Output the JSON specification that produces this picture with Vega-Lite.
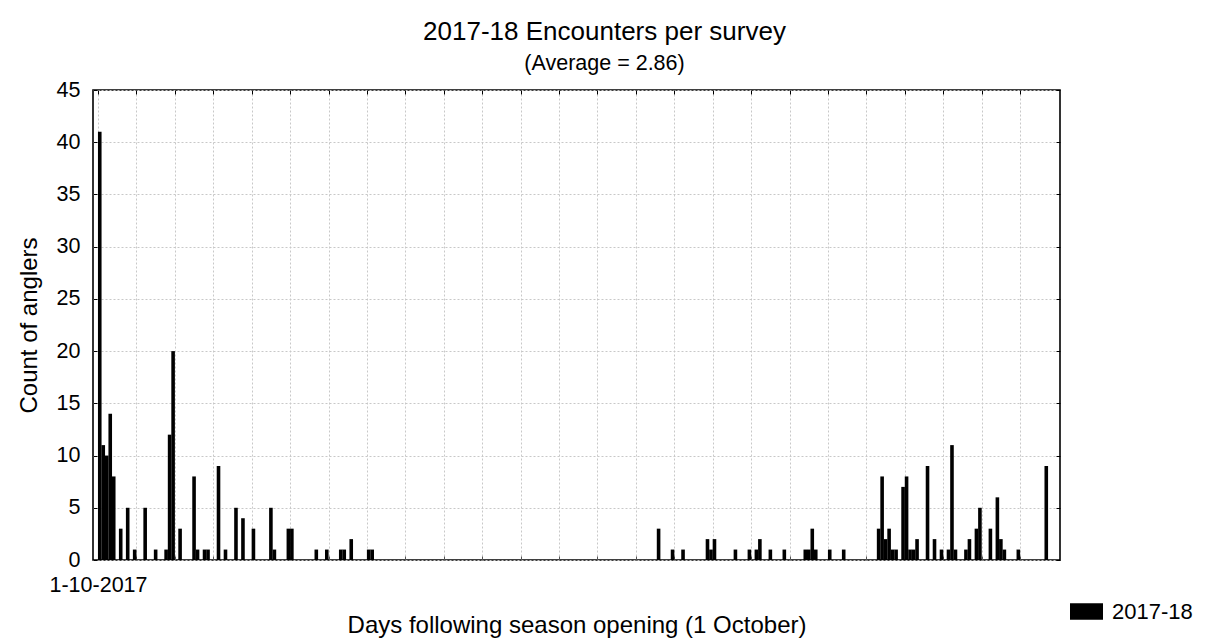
{
  "$schema": "https://vega.github.io/schema/vega-lite/v6.json",
  "width": 967,
  "height": 470,
  "autosize": "none",
  "padding": {"left": 93, "top": 90, "right": 146, "bottom": 83},
  "background": "white",
  "config": {
    "font": "Liberation Sans",
    "view": {"stroke": "#000000", "strokeWidth": 1.6},
    "axis": {"labelColor": "#000000", "titleColor": "#000000", "titleFontWeight": "normal", "labelFont": "Liberation Sans", "titleFont": "Liberation Sans"}
  },
  "title": {
    "text": "2017-18 Encounters per survey",
    "subtitle": "(Average = 2.86)",
    "anchor": "middle",
    "dx": 28,
    "fontSize": 26,
    "fontWeight": "normal",
    "color": "#000000",
    "subtitleFontSize": 21.5,
    "subtitleColor": "#000000",
    "subtitlePadding": 8,
    "offset": 5,
    "font": "Liberation Sans",
    "subtitleFont": "Liberation Sans"
  },
  "data": {
    "values": [
      {"day": 0, "count": 41, "season": "2017-18"},
      {"day": 1, "count": 11, "season": "2017-18"},
      {"day": 2, "count": 10, "season": "2017-18"},
      {"day": 3, "count": 14, "season": "2017-18"},
      {"day": 4, "count": 8, "season": "2017-18"},
      {"day": 6, "count": 3, "season": "2017-18"},
      {"day": 8, "count": 5, "season": "2017-18"},
      {"day": 10, "count": 1, "season": "2017-18"},
      {"day": 13, "count": 5, "season": "2017-18"},
      {"day": 16, "count": 1, "season": "2017-18"},
      {"day": 19, "count": 1, "season": "2017-18"},
      {"day": 20, "count": 12, "season": "2017-18"},
      {"day": 21, "count": 20, "season": "2017-18"},
      {"day": 23, "count": 3, "season": "2017-18"},
      {"day": 27, "count": 8, "season": "2017-18"},
      {"day": 28, "count": 1, "season": "2017-18"},
      {"day": 30, "count": 1, "season": "2017-18"},
      {"day": 31, "count": 1, "season": "2017-18"},
      {"day": 34, "count": 9, "season": "2017-18"},
      {"day": 36, "count": 1, "season": "2017-18"},
      {"day": 39, "count": 5, "season": "2017-18"},
      {"day": 41, "count": 4, "season": "2017-18"},
      {"day": 44, "count": 3, "season": "2017-18"},
      {"day": 49, "count": 5, "season": "2017-18"},
      {"day": 50, "count": 1, "season": "2017-18"},
      {"day": 54, "count": 3, "season": "2017-18"},
      {"day": 55, "count": 3, "season": "2017-18"},
      {"day": 62, "count": 1, "season": "2017-18"},
      {"day": 65, "count": 1, "season": "2017-18"},
      {"day": 69, "count": 1, "season": "2017-18"},
      {"day": 70, "count": 1, "season": "2017-18"},
      {"day": 72, "count": 2, "season": "2017-18"},
      {"day": 77, "count": 1, "season": "2017-18"},
      {"day": 78, "count": 1, "season": "2017-18"},
      {"day": 160, "count": 3, "season": "2017-18"},
      {"day": 164, "count": 1, "season": "2017-18"},
      {"day": 167, "count": 1, "season": "2017-18"},
      {"day": 174, "count": 2, "season": "2017-18"},
      {"day": 175, "count": 1, "season": "2017-18"},
      {"day": 176, "count": 2, "season": "2017-18"},
      {"day": 182, "count": 1, "season": "2017-18"},
      {"day": 186, "count": 1, "season": "2017-18"},
      {"day": 188, "count": 1, "season": "2017-18"},
      {"day": 189, "count": 2, "season": "2017-18"},
      {"day": 192, "count": 1, "season": "2017-18"},
      {"day": 196, "count": 1, "season": "2017-18"},
      {"day": 202, "count": 1, "season": "2017-18"},
      {"day": 203, "count": 1, "season": "2017-18"},
      {"day": 204, "count": 3, "season": "2017-18"},
      {"day": 205, "count": 1, "season": "2017-18"},
      {"day": 209, "count": 1, "season": "2017-18"},
      {"day": 213, "count": 1, "season": "2017-18"},
      {"day": 223, "count": 3, "season": "2017-18"},
      {"day": 224, "count": 8, "season": "2017-18"},
      {"day": 225, "count": 2, "season": "2017-18"},
      {"day": 226, "count": 3, "season": "2017-18"},
      {"day": 227, "count": 1, "season": "2017-18"},
      {"day": 228, "count": 1, "season": "2017-18"},
      {"day": 230, "count": 7, "season": "2017-18"},
      {"day": 231, "count": 8, "season": "2017-18"},
      {"day": 232, "count": 1, "season": "2017-18"},
      {"day": 233, "count": 1, "season": "2017-18"},
      {"day": 234, "count": 2, "season": "2017-18"},
      {"day": 237, "count": 9, "season": "2017-18"},
      {"day": 239, "count": 2, "season": "2017-18"},
      {"day": 241, "count": 1, "season": "2017-18"},
      {"day": 243, "count": 1, "season": "2017-18"},
      {"day": 244, "count": 11, "season": "2017-18"},
      {"day": 245, "count": 1, "season": "2017-18"},
      {"day": 248, "count": 1, "season": "2017-18"},
      {"day": 249, "count": 2, "season": "2017-18"},
      {"day": 251, "count": 3, "season": "2017-18"},
      {"day": 252, "count": 5, "season": "2017-18"},
      {"day": 255, "count": 3, "season": "2017-18"},
      {"day": 257, "count": 6, "season": "2017-18"},
      {"day": 258, "count": 2, "season": "2017-18"},
      {"day": 259, "count": 1, "season": "2017-18"},
      {"day": 263, "count": 1, "season": "2017-18"},
      {"day": 271, "count": 9, "season": "2017-18"}
    ]
  },
  "resolve": {"axis": {"x": "independent", "y": "independent"}},
  "layer": [
    {
      "mark": {"type": "bar", "width": 3.6, "xOffset": 1.76, "clip": true},
      "encoding": {
        "x": {
          "field": "day",
          "type": "quantitative",
          "scale": {"domain": [0, 274], "nice": false, "zero": false},
          "axis": {
            "orient": "bottom",
            "title": "Days following season opening (1 October)",
            "titleFontSize": 24,
            "titlePadding": 18,
            "values": [0, 11, 22, 33, 44, 55, 66, 77, 88, 99, 110, 121, 132, 143, 154, 165, 176, 187, 198, 209, 220, 231, 242, 253, 264],
            "labelExpr": "datum.value === 0 ? '1-10-2017' : ''",
            "labelFontSize": 21.5,
            "labelPadding": 18,
            "labelDx": 2,
            "labelFlush": false,
            "labelOverlap": false,
            "tickSize": -4,
            "tickColor": "#555555",
            "domain": false,
            "grid": true,
            "gridColor": "#c8c8c8",
            "gridDash": [2, 2],
            "gridWidth": 1
          }
        },
        "y": {
          "field": "count",
          "type": "quantitative",
          "scale": {"domain": [0, 45], "nice": false},
          "axis": {
            "orient": "left",
            "title": "Count of anglers",
            "titleFontSize": 24,
            "titleX": -57,
            "titleY": 235,
            "titleBaseline": "alphabetic",
            "titleAngle": -90,
            "values": [0, 5, 10, 15, 20, 25, 30, 35, 40, 45],
            "labelFontSize": 21.5,
            "labelPadding": 17,
            "tickSize": -4,
            "tickColor": "#000000",
            "domain": false,
            "grid": true,
            "gridColor": "#c8c8c8",
            "gridDash": [2, 2],
            "gridWidth": 1
          }
        },
        "color": {
          "field": "season",
          "type": "nominal",
          "scale": {"domain": ["2017-18"], "range": ["#000000"]},
          "legend": {
            "orient": "none",
            "legendX": 977,
            "legendY": 505,
            "title": null,
            "symbolType": "M-1,-0.5H1V0.5H-1Z",
            "symbolSize": 1089,
            "symbolStrokeWidth": 0,
            "labelFontSize": 22,
            "labelColor": "#000000",
            "labelFont": "Liberation Sans",
            "labelOffset": 9
          }
        }
      }
    },
    {
      "mark": {"type": "point", "opacity": 0},
      "encoding": {
        "x": {
          "field": "day",
          "type": "quantitative",
          "axis": {
            "orient": "top",
            "title": null,
            "labels": false,
            "values": [0, 11, 22, 33, 44, 55, 66, 77, 88, 99, 110, 121, 132, 143, 154, 165, 176, 187, 198, 209, 220, 231, 242, 253, 264],
            "tickSize": -4,
            "tickColor": "#000000",
            "domain": false,
            "grid": false
          }
        },
        "y": {
          "field": "count",
          "type": "quantitative",
          "axis": {
            "orient": "right",
            "title": null,
            "labels": false,
            "values": [0, 5, 10, 15, 20, 25, 30, 35, 40, 45],
            "tickSize": -4,
            "tickColor": "#000000",
            "domain": false,
            "grid": false
          }
        }
      }
    }
  ]
}
